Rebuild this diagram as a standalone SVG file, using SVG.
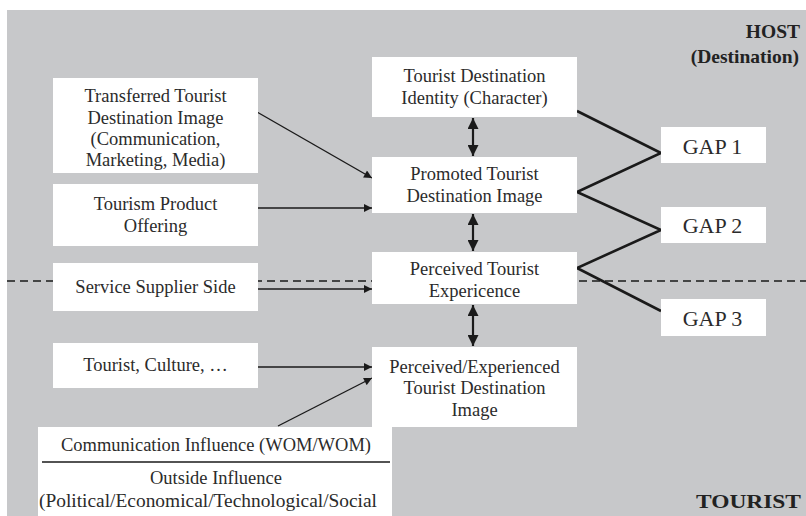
<svg xmlns="http://www.w3.org/2000/svg" width="806" height="516" viewBox="0 0 806 516">
  <defs>
    <marker id="arr" viewBox="0 0 10 10" refX="10" refY="5" markerWidth="10" markerHeight="8" markerUnits="userSpaceOnUse" orient="auto">
      <path d="M0,0 L10,5 L0,10 z" fill="#1a1a1a"/>
    </marker>
    <marker id="arrB" viewBox="0 0 10 10" refX="10" refY="5" markerWidth="11" markerHeight="11" markerUnits="userSpaceOnUse" orient="auto-start-reverse">
      <path d="M0,0 L10,5 L0,10 z" fill="#1a1a1a"/>
    </marker>
  </defs>
  <style>
    .box { fill: #ffffff; }
    text { font-family: 'Liberation Serif', 'Times New Roman', 'DejaVu Serif', serif; }
    .t { font-size: 18.5px; font-weight: normal; fill: #2b2b2b; text-anchor: middle; }
    .big { font-size: 19.5px; font-weight: bold; fill: #222; text-anchor: end; }
    .gap { font-size: 22px; font-weight: normal; fill: #2b2b2b; text-anchor: middle; }
    .a { stroke: #1a1a1a; stroke-width: 1.4; fill: none; marker-end: url(#arr); }
    .da { stroke: #1a1a1a; stroke-width: 2.2; fill: none; marker-start: url(#arrB); marker-end: url(#arrB); }
    .zig { stroke: #1a1a1a; stroke-width: 2.6; fill: none; stroke-linejoin: miter; }
  </style>

  <!-- background panel -->
  <rect x="7" y="10" width="799" height="506" fill="#c7c8ca"/>

  <!-- host / tourist divider -->
  <line x1="7" y1="281" x2="806" y2="281" stroke="#1a1a1a" stroke-width="1.6" stroke-dasharray="8,5"/>

  <text class="big" x="800" y="38">HOST</text>
  <text class="big" x="799" y="63">(Destination)</text>
  <text class="big" x="801" y="508" textLength="105" lengthAdjust="spacingAndGlyphs">TOURIST</text>

  <g id="connectors">
    <line class="a" x1="257" y1="112" x2="372" y2="178"/>
    <line class="a" x1="258" y1="208" x2="372" y2="208"/>
    <line class="a" x1="258" y1="289" x2="372" y2="289"/>
    <line class="a" x1="258" y1="367" x2="372" y2="367"/>
    <line class="a" x1="278" y1="426" x2="372" y2="378"/>
    <line class="da" x1="473" y1="118" x2="473" y2="156"/>
    <line class="da" x1="473" y1="214" x2="473" y2="251"/>
    <line class="da" x1="473" y1="305" x2="473" y2="346"/>
    <polyline class="zig" points="577,111 661,153 577,192 661,230 577,268 661,311"/>
  </g>

  <g id="transferred">
    <rect class="box" x="53" y="78" width="205" height="95"/>
    <text class="t" x="155.5" y="102">Transferred Tourist</text>
    <text class="t" x="155.5" y="124">Destination Image</text>
    <text class="t" x="155.5" y="145">(Communication,</text>
    <text class="t" x="155.5" y="166">Marketing, Media)</text>
  </g>
  <g id="product">
    <rect class="box" x="53" y="184" width="205" height="62"/>
    <text class="t" x="155.5" y="210">Tourism Product</text>
    <text class="t" x="155.5" y="232">Offering</text>
  </g>
  <g id="supplier">
    <rect class="box" x="53" y="263" width="205" height="48"/>
    <text class="t" x="155.5" y="293">Service Supplier Side</text>
  </g>
  <g id="culture">
    <rect class="box" x="53" y="343" width="205" height="45"/>
    <text class="t" x="155.5" y="371">Tourist, Culture, …</text>
  </g>
  <g id="influence">
    <rect class="box" x="38" y="427" width="354" height="89"/>
    <text class="t" x="216" y="451" textLength="310" lengthAdjust="spacingAndGlyphs">Communication Influence (WOM/WOM)</text>
    <line x1="42" y1="462" x2="390" y2="462" stroke="#1a1a1a" stroke-width="1.3"/>
    <text class="t" x="216" y="484">Outside Influence</text>
    <text class="t" x="208" y="507" textLength="338" lengthAdjust="spacingAndGlyphs">(Political/Economical/Technological/Social</text>
  </g>

  <g id="identity">
    <rect class="box" x="372" y="57" width="205" height="60"/>
    <text class="t" x="474.5" y="82">Tourist Destination</text>
    <text class="t" x="474.5" y="104">Identity (Character)</text>
  </g>
  <g id="promoted">
    <rect class="box" x="372" y="157" width="205" height="56"/>
    <text class="t" x="474.5" y="180">Promoted Tourist</text>
    <text class="t" x="474.5" y="202">Destination Image</text>
  </g>
  <g id="experience">
    <rect class="box" x="372" y="252" width="205" height="52"/>
    <text class="t" x="474.5" y="275">Perceived Tourist</text>
    <text class="t" x="474.5" y="297">Expericence</text>
  </g>
  <g id="perceived-image">
    <rect class="box" x="372" y="347" width="205" height="80"/>
    <text class="t" x="474.5" y="373">Perceived/Experienced</text>
    <text class="t" x="474.5" y="394">Tourist Destination</text>
    <text class="t" x="474.5" y="416">Image</text>
  </g>

  <g id="gap1">
    <rect class="box" x="661" y="127" width="105" height="36"/>
    <text class="gap" x="712.5" y="154">GAP 1</text>
  </g>
  <g id="gap2">
    <rect class="box" x="661" y="207" width="105" height="36"/>
    <text class="gap" x="712.5" y="233">GAP 2</text>
  </g>
  <g id="gap3">
    <rect class="box" x="661" y="299" width="105" height="37"/>
    <text class="gap" x="712.5" y="326">GAP 3</text>
  </g>
</svg>
